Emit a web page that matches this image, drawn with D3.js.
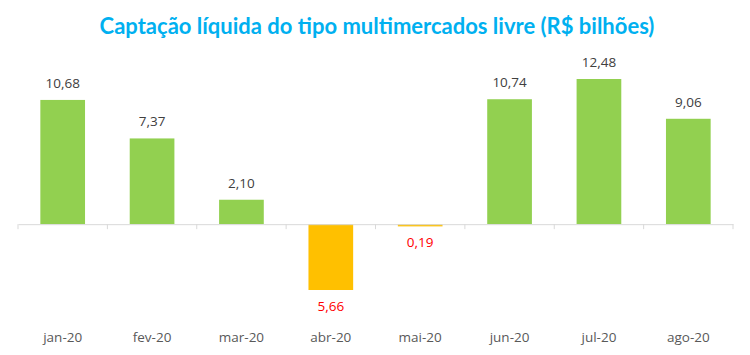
<!DOCTYPE html>
<html><head><meta charset="utf-8">
<script src="https://cdn.jsdelivr.net/npm/d3@7"></script>
<style>body{margin:0;background:#fff}</style>
</head><body>
<script>
const categories = ["jan-20","fev-20","mar-20","abr-20","mai-20","jun-20","jul-20","ago-20"];
const values = [10.68, 7.37, 2.10, -5.66, -0.19, 10.74, 12.48, 9.06];
const title = "Captação líquida do tipo multimercados livre (R$ bilhões)";

const W = 750, H = 355;
const svg = d3.select("body").append("svg").attr("width", W).attr("height", H);

const x = d3.scaleBand().domain(categories).range([18, 733]).paddingInner(0.5).paddingOuter(0.25);
const y = d3.scaleLinear().domain([-5.66, 12.48]).range([290, 79]);

svg.append("text").attr("x", 377).attr("y", 34).attr("text-anchor", "middle")
  .attr("font-family", "Lato, 'Open Sans', sans-serif").attr("font-weight", "bold")
  .attr("font-size", 22).attr("fill", "#00B0F0").text(title);

svg.selectAll("rect.bar").data(values).join("rect").attr("class","bar")
  .attr("x", (d,i) => x(categories[i]))
  .attr("width", x.bandwidth())
  .attr("y", d => y(Math.max(0,d)))
  .attr("height", d => Math.max(1, Math.abs(y(d) - y(0))))
  .attr("fill", d => d >= 0 ? "#92D050" : "#FFC000");

// axis
const axis = d3.axisBottom(x).tickSize(0).tickFormat("");
const gA = svg.append("g").attr("transform", `translate(0,${y(0)})`).call(axis);
gA.select(".domain").attr("stroke", "#D9D9D9");
const bounds = d3.range(categories.length + 1).map(i => 18 + i * (715 / categories.length));
svg.selectAll("line.tk").data(bounds).join("line").attr("class","tk")
  .attr("x1", d => d).attr("x2", d => d).attr("y1", y(0)).attr("y2", y(0) + 5)
  .attr("stroke", "#D9D9D9");

svg.selectAll("text.cat").data(categories).join("text").attr("class","cat")
  .attr("x", d => x(d) + x.bandwidth()/2).attr("y", 342).attr("text-anchor","middle")
  .attr("font-family","'Open Sans', sans-serif").attr("font-size", 13.5).attr("fill","#595959").text(d => d);

const fmt = v => Math.abs(v).toFixed(2).replace(".", ",");
svg.selectAll("text.val").data(values).join("text").attr("class","val")
  .attr("x", (d,i) => x(categories[i]) + x.bandwidth()/2)
  .attr("y", d => d >= 0 ? y(d) - 12 : y(d) + 21)
  .attr("text-anchor","middle").attr("font-family","'Open Sans', sans-serif").attr("font-size", 13.5)
  .attr("fill", d => d >= 0 ? "#404040" : "#FF0000").text(d => fmt(d));
</script>
</body></html>
